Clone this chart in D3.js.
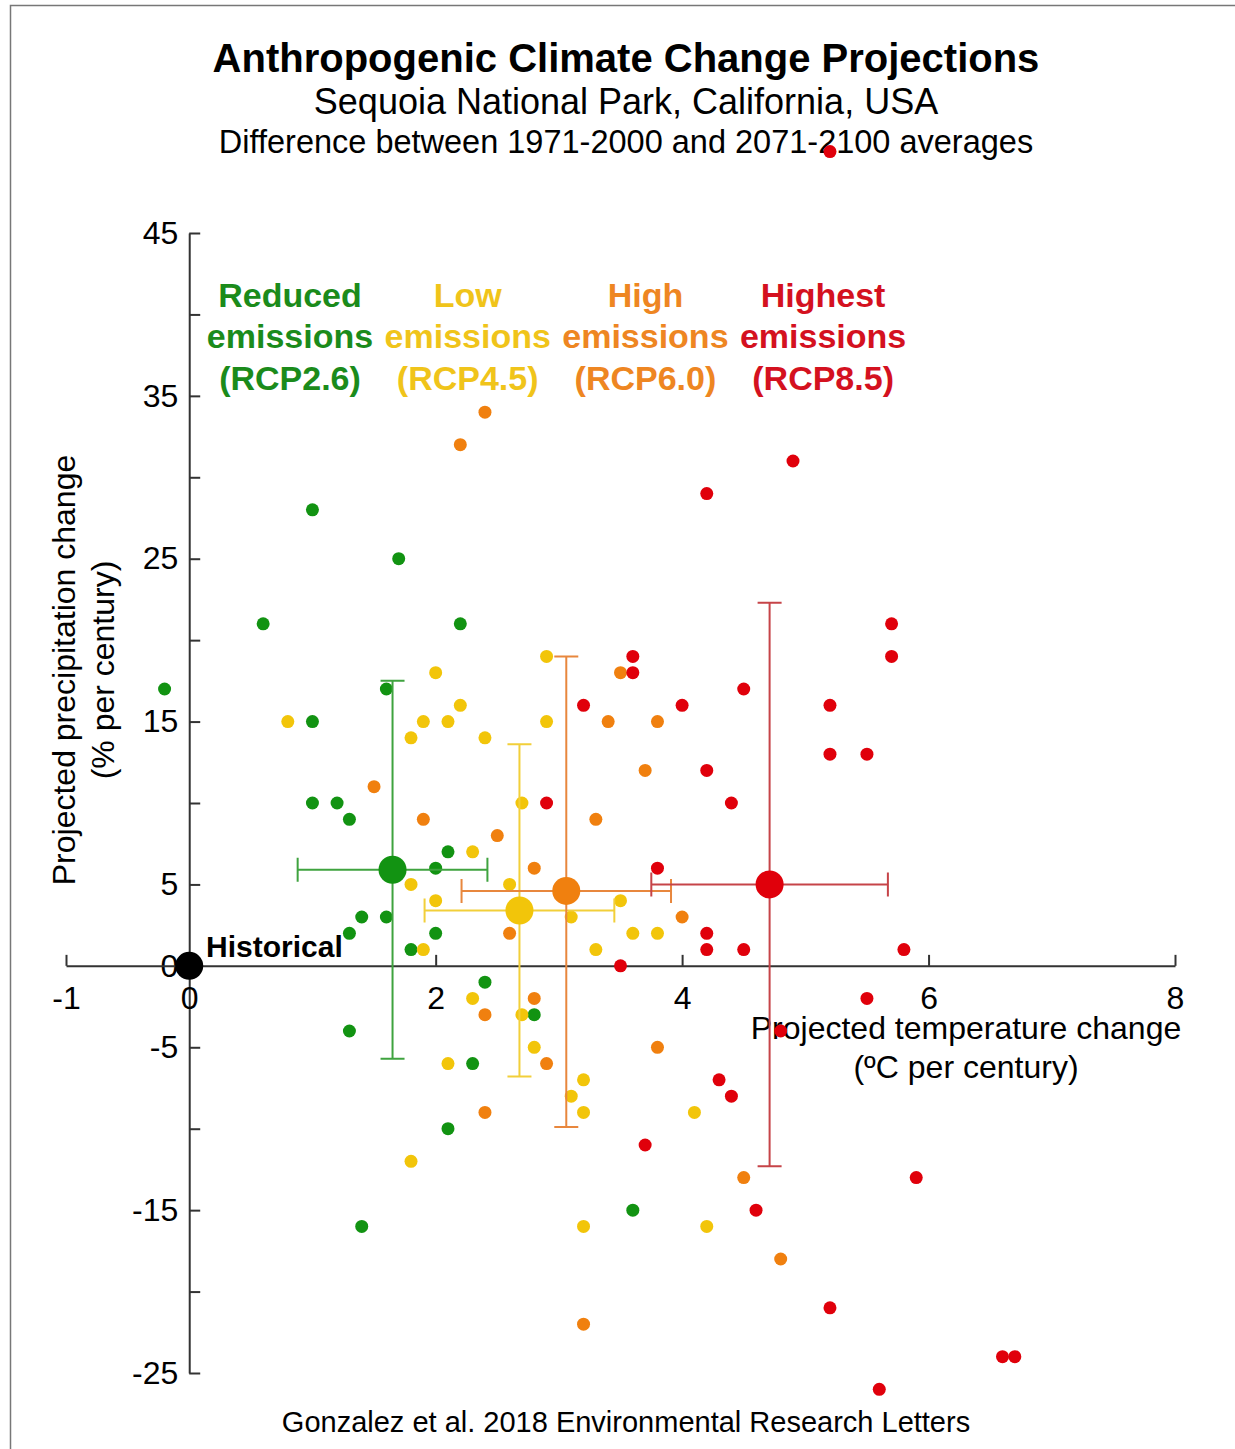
<!DOCTYPE html>
<html>
<head>
<meta charset="utf-8">
<script src="https://cdn.jsdelivr.net/npm/d3@7"></script>
<style>
  body { margin: 0; background: #fff; }
  svg { display: block; font-family: "Liberation Sans", Arial, Helvetica, sans-serif; }
</style>
</head>
<body>
<div id="chart"></div>
<script>
// scenario labels
const scenarios = ["RCP2.6", "RCP4.5", "RCP6.0", "RCP8.5"];
const legendTop = ["Reduced", "Low", "High", "Highest"];

// individual model projections (temp in degC/century, precip in %/century)
const rcp26Temp   = [-0.2, 0.6, 1.0, 1.0, 1.0, 1.2, 1.3, 1.7, 1.6, 2.2, 2.1, 2.0, 1.4, 1.3, 1.6, 1.8, 2.0, 2.4, 2.8, 1.3, 2.3, 2.1, 1.4, 3.6];
const rcp26Precip = [17, 21, 28, 15, 10, 10, 9, 25, 17, 21, 7, 6, 3, 2, 3, 1, 2, -1, -3, -4, -6, -10, -16, -15];

const rcp45Temp   = [0.8, 1.8, 1.9, 2.0, 2.1, 2.2, 2.4, 2.9, 2.9, 2.7, 2.3, 1.8, 2.0, 2.6, 1.9, 3.1, 3.5, 3.3, 3.6, 3.8, 2.3, 2.7, 2.8, 2.1, 3.2, 3.1, 3.2, 4.1, 1.8, 3.2, 4.2];
const rcp45Precip = [15, 14, 15, 18, 15, 16, 14, 19, 15, 10, 7, 5, 4, 5, 1, 3, 4, 1, 2, 2, -2, -3, -5, -6, -7, -8, -9, -9, -12, -16, -16];

const rcp60Temp   = [2.4, 2.2, 1.5, 1.9, 2.5, 2.8, 2.6, 3.5, 3.4, 3.8, 3.7, 3.3, 4.0, 2.8, 2.4, 2.9, 3.8, 2.4, 4.5, 4.8, 3.2];
const rcp60Precip = [34, 32, 11, 9, 8, 6, 2, 18, 15, 15, 12, 9, 3, -2, -3, -6, -5, -9, -13, -18, -22];

const rcp85Temp   = [5.2, 4.9, 4.2, 5.7, 5.7, 3.6, 3.6, 4.5, 3.2, 4.0, 5.2, 5.2, 5.5, 4.2, 4.4, 2.9, 3.8, 4.2, 4.2, 4.5, 5.8, 3.5, 5.5, 4.8, 4.3, 4.4, 3.7, 5.9, 4.6, 5.2, 6.6, 6.7, 5.6];
const rcp85Precip = [50, 31, 29, 21, 19, 19, 18, 17, 16, 16, 16, 13, 13, 12, 10, 10, 6, 2, 1, 1, 1, 0, -2, -4, -7, -8, -11, -13, -15, -21, -24, -24, -26];

// ensemble means and ranges
const meanTemp   = [1.65, 2.68, 3.06, 4.71];
const meanPrecip = [5.9, 3.4, 4.6, 5.0];
const tempLow    = [0.88, 1.91, 2.21, 3.75];
const tempHigh   = [2.42, 3.45, 3.91, 5.67];
const precipLow  = [-5.7, -6.8, -9.9, -12.3];
const precipHigh = [17.5, 13.6, 19.0, 22.3];

// axis ticks
const xTicks = [-1, 0, 2, 4, 6, 8];
const yTicks = [45, 35, 25, 15, 5, 0, -5, -15, -25];
const yMinor = [40, 30, 20, 10, -10, -20];

const width = 1235, height = 1449;
const dotColor  = ["#129312", "#f2c50a", "#f0800f", "#e0000b"];
const textColor = ["#1b8b1b", "#f0c41a", "#ee8622", "#d4111f"];
const barColor  = ["#3fa33f", "#f2cf3a", "#e8873d", "#c64448"];

const svg = d3.select("#chart").append("svg")
    .attr("width", width)
    .attr("height", height);

svg.append("path")
    .attr("d", "M10.5,1449V5.5H1235")
    .attr("fill", "none")
    .attr("stroke", "#777")
    .attr("stroke-width", 1.5);

const x = d3.scaleLinear().domain([-1, 8]).range([66, 1175]);
const y = d3.scaleLinear().domain([-25, 45]).range([1373, 233]);

// titles
const titles = [
    {text: "Anthropogenic Climate Change Projections", y: 72, size: 40, weight: "bold"},
    {text: "Sequoia National Park, California, USA", y: 114, size: 36, weight: "normal"},
    {text: "Difference between 1971-2000 and 2071-2100 averages", y: 153, size: 32.5, weight: "normal"}
];
svg.append("g").selectAll("text")
    .data(titles)
    .enter().append("text")
    .attr("x", 626)
    .attr("y", d => d.y)
    .attr("text-anchor", "middle")
    .style("font-size", d => d.size + "px")
    .style("font-weight", d => d.weight)
    .text(d => d.text);

// legend
const legend = svg.append("g").selectAll("g")
    .data(scenarios)
    .enter().append("g")
    .attr("transform", (d, i) => `translate(${290 + i * 177.7},0)`)
    .style("fill", (d, i) => textColor[i])
    .style("font-size", "34px")
    .style("font-weight", "bold")
    .attr("text-anchor", "middle");
legend.append("text").attr("y", 307).text((d, i) => legendTop[i]);
legend.append("text").attr("y", 348).text("emissions");
legend.append("text").attr("y", 390).text(d => "(" + d + ")");

// axes
const axisColor = "#333";
const plain = d => String(d);
const gy = svg.append("g")
    .attr("transform", `translate(${x(0)},0)`)
    .call(d3.axisLeft(y).tickValues(yTicks).tickSizeInner(-11).tickSizeOuter(0).tickPadding(11).tickFormat(plain));
const gyMinor = svg.append("g")
    .attr("transform", `translate(${x(0)},0)`)
    .call(d3.axisLeft(y).tickValues(yMinor).tickSizeInner(-11).tickSizeOuter(0).tickFormat(""));
gyMinor.select(".domain").remove();

const gx = svg.append("g")
    .attr("transform", `translate(0,${y(0)})`)
    .call(d3.axisBottom(x).tickValues(xTicks).tickSizeInner(-11).tickSizeOuter(0).tickPadding(20).tickFormat(plain));

[gy, gyMinor, gx].forEach(g => {
    g.selectAll("path, line").attr("stroke", axisColor).attr("stroke-width", 2);
    g.selectAll("text")
        .attr("fill", "#000")
        .style("font-size", "32px")
        .style("font-family", "'Liberation Sans', Arial, sans-serif");
});

// axis titles
svg.append("g")
    .attr("transform", "translate(0,670) rotate(-90)")
    .selectAll("text")
    .data(["Projected precipitation change", "(% per century)"])
    .enter().append("text")
    .attr("y", (d, i) => 75 + i * 39)
    .attr("text-anchor", "middle")
    .style("font-size", "32px")
    .text(d => d);

svg.append("g").selectAll("text")
    .data(["Projected temperature change", "(\u00baC per century)"])
    .enter().append("text")
    .attr("x", 966)
    .attr("y", (d, i) => 1039 + i * 39)
    .attr("text-anchor", "middle")
    .style("font-size", "32px")
    .text(d => d);

svg.append("text")
    .attr("x", 626)
    .attr("y", 1432)
    .attr("text-anchor", "middle")
    .style("font-size", "29px")
    .text("Gonzalez et al. 2018 Environmental Research Letters");

// model points
const temps = [rcp26Temp, rcp45Temp, rcp60Temp, rcp85Temp];
const precs = [rcp26Precip, rcp45Precip, rcp60Precip, rcp85Precip];
const points = [];
temps.forEach((t, s) => t.forEach((v, j) => points.push({s: s, t: v, p: precs[s][j]})));

svg.append("g").selectAll("circle")
    .data(points)
    .enter().append("circle")
    .attr("cx", d => x(d.t))
    .attr("cy", d => y(d.p))
    .attr("r", 6.5)
    .attr("fill", d => dotColor[d.s]);

// error bars
const cap = 12;
const bars = svg.append("g").selectAll("g")
    .data(scenarios)
    .enter().append("g")
    .attr("stroke", (d, i) => barColor[i])
    .attr("stroke-width", 2)
    .attr("fill", "none");

bars.append("path")
    .attr("d", (d, i) => {
        let cy = y(meanPrecip[i]), cx = x(meanTemp[i]);
        let x0 = x(tempLow[i]), x1 = x(tempHigh[i]);
        let y0 = y(precipLow[i]), y1 = y(precipHigh[i]);
        return `M${x0},${cy}H${x1}M${x0},${cy - cap}V${cy + cap}M${x1},${cy - cap}V${cy + cap}` +
            `M${cx},${y0}V${y1}M${cx - cap},${y0}H${cx + cap}M${cx - cap},${y1}H${cx + cap}`;
    });

svg.append("g").selectAll("circle")
    .data(scenarios)
    .enter().append("circle")
    .attr("cx", (d, i) => x(meanTemp[i]))
    .attr("cy", (d, i) => y(meanPrecip[i]))
    .attr("r", 14)
    .attr("fill", (d, i) => dotColor[i]);

// historical baseline
svg.append("circle")
    .attr("cx", x(0))
    .attr("cy", y(0))
    .attr("r", 14)
    .attr("fill", "#000");

svg.append("text")
    .attr("x", 206)
    .attr("y", 957)
    .style("font-size", "30px")
    .style("font-weight", "bold")
    .text("Historical");
</script>
</body>
</html>
